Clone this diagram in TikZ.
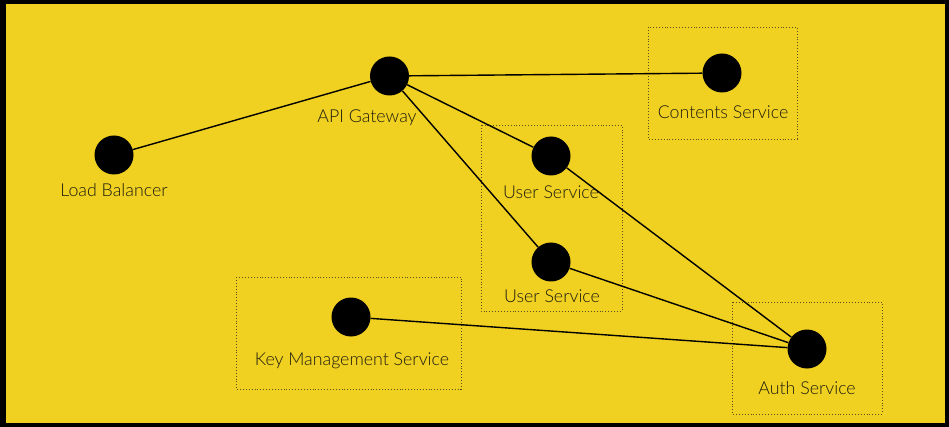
\documentclass[tikz,border=0pt]{standalone}
\usepackage{fontspec}
\setmainfont{Lato}[UprightFont=* Light]
\definecolor{bgyellow}{RGB}{240,208,32}
\definecolor{txtgray}{RGB}{30,28,15}
\definecolor{boxgray}{RGB}{90,80,30}
\begin{document}
\begin{tikzpicture}[x=1pt,y=-1pt,
  dot/.style={circle,fill=black,minimum size=39pt,inner sep=0pt},
  lbl/.style={text=txtgray,font=\fontsize{17.8}{19}\selectfont,inner sep=0pt,anchor=base},
  grp/.style={draw=boxgray,dotted,line width=0.9pt},
  link/.style={draw=black,line width=1.4pt}]
\useasboundingbox (0,0) rectangle (949,427);
\fill[black] (0,0) rectangle (949,427);
\fill[bgyellow] (6,4) rectangle (945,423);
% groups
\draw[grp] (648,27) rectangle (797,139);
\draw[grp] (481,125) rectangle (622,311);
\draw[grp] (236,277) rectangle (461,389);
\draw[grp] (732,302) rectangle (882,414);
% nodes
\node[dot] (lb) at (114,155) {};
\node[dot] (api) at (389.5,76) {};
\node[dot] (cs) at (722,73) {};
\node[dot] (us1) at (551,156) {};
\node[dot] (us2) at (551,262) {};
\node[dot] (kms) at (351,317) {};
\node[dot] (auth) at (807,349) {};
% labels
\node[lbl] (lbl-lb) at (114,197) {Load Balancer};
\node[lbl] (lbl-api) at (367,123) {API Gateway};
\node[lbl] (lbl-cs) at (723,119) {Contents Service};
\node[lbl] (lbl-us1) at (551,199) {User Service};
\node[lbl] (lbl-us2) at (552,302) {User Service};
\node[lbl] (lbl-kms) at (352,365) {Key Management Service};
\node[lbl] (lbl-auth) at (807,394) {Auth Service};
% links
\draw[link] (lb) -- (api);
\draw[link] (api) -- (cs);
\draw[link] (api) -- (us1);
\draw[link] (api) -- (us2);
\draw[link] (us1) -- (auth);
\draw[link] (us2) -- (auth);
\draw[link] (kms) -- (auth);
\end{tikzpicture}
\end{document}
